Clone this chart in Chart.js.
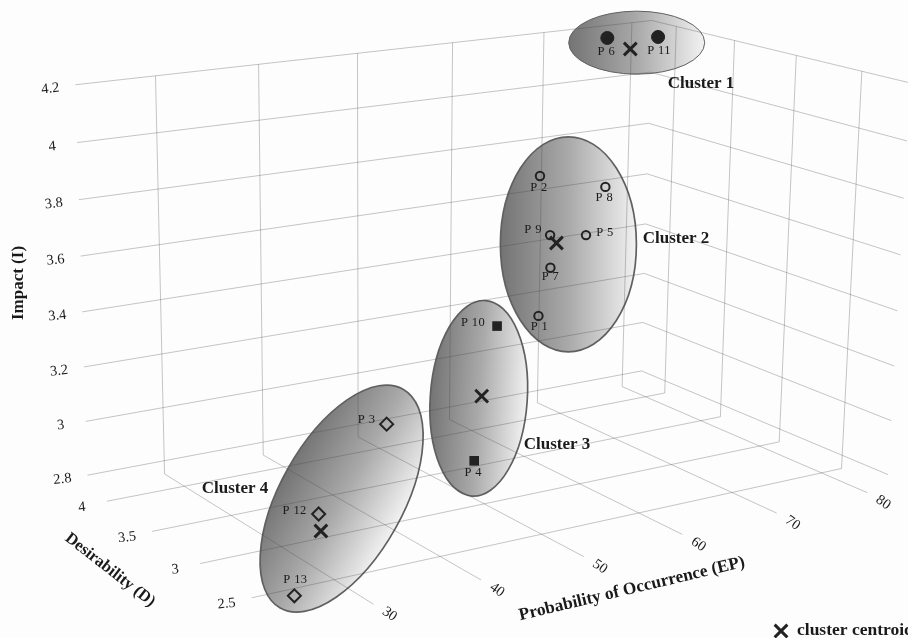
<!DOCTYPE html>
<html>
<head>
<meta charset="utf-8">
<title>Risk clusters</title>
<style>
body { margin: 0; background: #fdfdfd; }
canvas { display: block; }
</style>
<script src="https://cdn.jsdelivr.net/npm/chart.js@4"></script>
</head>
<body>
<canvas id="chart" width="908" height="638"></canvas>
<script>
// Risks
const riskNames = ['P 1', 'P 2', 'P 3', 'P 4', 'P 5', 'P 6', 'P 7', 'P 8', 'P 9', 'P 10', 'P 11', 'P 12', 'P 13'];
const riskCluster = [2, 2, 4, 3, 2, 1, 2, 2, 2, 3, 1, 4, 4];
const riskEP = [61.3, 61.2, 44.4, 51.2, 66.3, 71.9, 62.5, 68.3, 62.4, 53.4, 77.6, 31.6, 24.4];
const riskD = [3.5, 3.5, 3.4, 3.2, 3.5, 3.8, 3.5, 3.5, 3.5, 3.2, 3.8, 2.8, 2.3];
const riskI = [3.276, 3.794, 3.001, 2.858, 3.55, 4.217, 3.449, 3.719, 3.571, 3.338, 4.199, 2.897, 2.789];

// Cluster centroids and the middle of each cluster's ellipse
const centroidEP = [74.5, 63.1, 51.9, 31.8];
const centroidD = [3.8, 3.5, 3.2, 2.8];
const centroidI = [4.166, 3.538, 3.092, 2.836];
const ellipseEP = [75.2, 64.4, 51.6, 35.8];
const ellipseD = [3.8, 3.5, 3.2, 3.0];
const ellipseI = [4.187, 3.526, 3.086, 2.876];

// Axis ticks
const ticksEP = [30, 40, 50, 60, 70, 80];
const ticksD = [2.5, 3, 3.5, 4];
const ticksI = [2.8, 3, 3.2, 3.4, 3.6, 3.8, 4, 4.2];
const ticksILabels = ['2.8', '3', '3.2', '3.4', '3.6', '3.8', '4', '4.2'];
const ticksDLabels = ['2.5', '3', '3.5', '4'];

// Extent of the 3D box
const boxEP = [22.5, 82.3];
const boxD = [2.15, 4.22];
const boxI = [2.75, 4.2];

// Perspective camera fitted to the grid of the picture
const camera = [
    [0.6592271, -0.1665868, -0.01583092, 0.9735622],
    [-0.06170089, -0.05738604, -0.4094331, 0.5919271],
    [0.06341173, 0.06263587, -0.02122021, 1]
];

function project(ep, d, i) {
    const p = [(ep - 50) / 30, d - 3, (i - 3.5) / 0.7, 1];
    const dot = row => row[0] * p[0] + row[1] * p[1] + row[2] * p[2] + row[3] * p[3];
    const w = dot(camera[2]);
    return { x: 500 * dot(camera[0]) / w, y: 500 * dot(camera[1]) / w };
}

// Grid lines
function gridLine(from, to) {
    return {
        data: [project(...from), project(...to)],
        showLine: true,
        pointRadius: 0,
        borderWidth: 1,
        borderColor: 'rgba(70,70,70,0.31)'
    };
}

const gridSets = [];
ticksI.forEach(i => {
    gridSets.push(gridLine([boxEP[0], boxD[1], i], [boxEP[1], boxD[1], i]));
    gridSets.push(gridLine([boxEP[1], boxD[1], i], [boxEP[1], boxD[0], i]));
});
ticksEP.forEach(ep => {
    gridSets.push(gridLine([ep, boxD[1], boxI[0]], [ep, boxD[1], boxI[1]]));
    gridSets.push(gridLine([ep, boxD[1], boxI[0]], [ep, boxD[0], boxI[0]]));
});
ticksD.forEach(d => {
    gridSets.push(gridLine([boxEP[1], d, boxI[0]], [boxEP[1], d, boxI[1]]));
    gridSets.push(gridLine([boxEP[0], d, boxI[0]], [boxEP[1], d, boxI[0]]));
});

// Markers, one dataset per cluster
const ink = '#222';
const clusterStyles = {
    1: { pointStyle: 'circle', pointRadius: 6.5, pointBackgroundColor: ink, pointBorderColor: ink, pointBorderWidth: 1 },
    2: { pointStyle: 'circle', pointRadius: 4.2, pointBackgroundColor: 'transparent', pointBorderColor: ink, pointBorderWidth: 2 },
    3: { pointStyle: 'rect', pointRadius: 6.8, pointBackgroundColor: ink, pointBorderColor: ink, pointBorderWidth: 0 },
    4: { pointStyle: 'rectRot', pointRadius: 6.5, pointBackgroundColor: 'transparent', pointBorderColor: ink, pointBorderWidth: 2 }
};

const markerSets = [1, 2, 3, 4].map(c => {
    const points = [];
    riskNames.forEach((name, k) => {
        if (riskCluster[k] === c) points.push(project(riskEP[k], riskD[k], riskI[k]));
    });
    return Object.assign({ data: points, showLine: false }, clusterStyles[c]);
});

const centroidSet = {
    data: centroidEP.map((ep, k) => project(ep, centroidD[k], centroidI[k])),
    showLine: false,
    pointStyle: 'crossRot',
    pointRadius: 9,
    pointBorderColor: ink,
    pointBorderWidth: 3
};

// Ellipses: radii along and across the shading, tilt in degrees
const ellipseShapes = [
    { rx: 68, ry: 31.5, tilt: 0 },
    { rx: 68, ry: 107.5, tilt: 0 },
    { rx: 48.5, ry: 98, tilt: 4 },
    { rx: 61.5, ry: 125.5, tilt: 29.3 }
];

const ellipsePlugin = {
    id: 'ellipses',
    beforeDatasetsDraw(chart) {
        const ctx = chart.ctx;
        ellipseShapes.forEach((s, k) => {
            const c = project(ellipseEP[k], ellipseD[k], ellipseI[k]);
            const g = ctx.createLinearGradient(-s.rx, 0, s.rx, 0);
            g.addColorStop(0, '#747474');
            g.addColorStop(0.5, '#a9a9a9');
            g.addColorStop(1, '#f2f2f2');
            ctx.save();
            ctx.translate(chart.scales.x.getPixelForValue(c.x), chart.scales.y.getPixelForValue(c.y));
            ctx.rotate(s.tilt * Math.PI / 180);
            ctx.beginPath();
            ctx.ellipse(0, 0, s.rx, s.ry, 0, 0, Math.PI * 2);
            ctx.fillStyle = g;
            ctx.fill();
            ctx.lineWidth = k === 0 ? 1 : 1.7;
            ctx.strokeStyle = '#606060';
            ctx.stroke();
            ctx.restore();
        });
    }
};

// Text offsets from the marker, same order as riskNames
const labelOffsets = [[1, 11], [-1, 12], [-20, -4], [-1, 12], [19, -2], [-1, 14], [0, 9], [-1, 11], [-17, -5], [-24, -3], [1, 14], [-24, -3], [1, -16]];

const textPlugin = {
    id: 'texts',
    afterDatasetsDraw(chart) {
        const ctx = chart.ctx;
        const put = (text, x, y, font, angle) => {
            ctx.save();
            ctx.translate(x, y);
            ctx.rotate((angle || 0) * Math.PI / 180);
            ctx.font = font;
            ctx.fillStyle = '#1a1a1a';
            ctx.textAlign = 'center';
            ctx.textBaseline = 'middle';
            ctx.fillText(text, 0, 0);
            ctx.restore();
        };
        const serif = '"Liberation Serif"';
        const tick = '14.5px ' + serif;
        const bold = 'bold 17px ' + serif;

        riskNames.forEach((name, k) => {
            const p = project(riskEP[k], riskD[k], riskI[k]);
            ctx.letterSpacing = '0.4px';
            put(name, p.x + labelOffsets[k][0], p.y + labelOffsets[k][1], '12.5px ' + serif);
            ctx.letterSpacing = '0px';
        });

        ticksI.forEach((v, k) => {
            const p = project(boxEP[0], boxD[1], v);
            put(ticksILabels[k], p.x - 25, p.y + 4, tick, -6);
        });
        ticksD.forEach((v, k) => {
            const p = project(boxEP[0], v, boxI[0]);
            put(ticksDLabels[k], p.x - 25, p.y + 6, tick, -6);
        });
        ticksEP.forEach(v => {
            const p = project(v, boxD[0], boxI[0]);
            put(String(v), p.x + 16, p.y + 10, tick, 35);
        });

        put('Cluster 1', 701, 84, bold);
        put('Cluster 2', 676, 239, bold);
        put('Cluster 3', 557, 445, bold);
        put('Cluster 4', 235, 489, bold);

        put('Impact (I)', 19, 283, 'bold 17px ' + serif, -90);
        put('Desirability (D)', 110, 570, 'bold 16.5px ' + serif, 38);
        put('Probability of Occurrence (EP)', 632, 589, 'bold 17.4px ' + serif, -13.4);

        // Legend key
        ctx.lineWidth = 3;
        ctx.strokeStyle = ink;
        Chart.helpers.drawPoint(ctx, { pointStyle: 'crossRot', radius: 9, borderWidth: 3 }, 781, 631);
        ctx.textAlign = 'left';
        ctx.font = 'bold 17.5px ' + serif;
        ctx.textBaseline = 'middle';
        ctx.fillStyle = '#1a1a1a';
        ctx.fillText('cluster centroid', 797, 630);
    }
};

new Chart('chart', {
    type: 'scatter',
    data: { datasets: [centroidSet].concat(markerSets, gridSets) },
    plugins: [ellipsePlugin, textPlugin],
    options: {
        responsive: false,
        animation: false,
        layout: { autoPadding: false },
        plugins: { legend: { display: false }, tooltip: { enabled: false } },
        scales: {
            x: { display: false, min: 0, max: 908 },
            y: { display: false, min: 0, max: 638, reverse: true }
        }
    }
});
</script>
</body>
</html>
